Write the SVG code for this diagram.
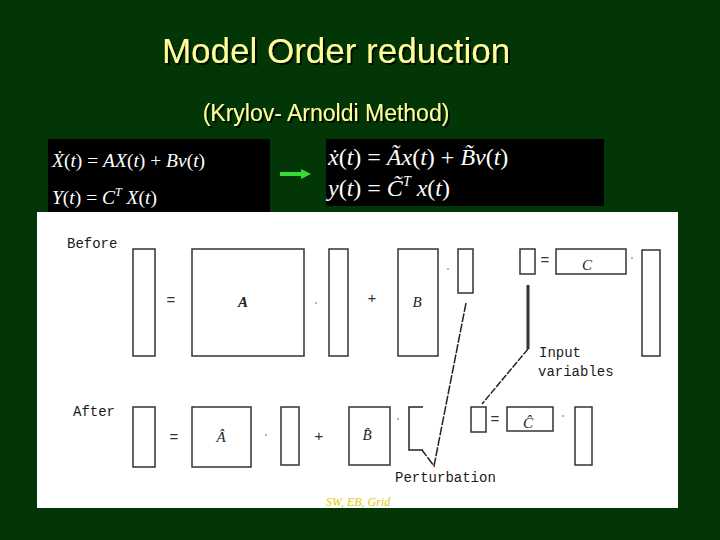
<svg xmlns="http://www.w3.org/2000/svg" width="720" height="540" viewBox="0 0 720 540">
<defs>
<filter id="shd" x="-5%" y="-20%" width="110%" height="140%">
<feDropShadow dx="2" dy="2" stdDeviation="0.6" flood-color="#000000" flood-opacity="0.8"/>
</filter>
</defs>
<style>
.title{font-family:"Liberation Sans",Arial,sans-serif;fill:#ffff99;text-anchor:middle}
.eq{font-family:"Liberation Serif","Times New Roman",serif;fill:#ffffff}
.it{font-style:italic}
.box{fill:#ffffff;stroke:#333333;stroke-width:1.5}
.lbl{font-family:"Liberation Mono","Courier New",monospace;font-size:14px;fill:#1a1a1a}
.op{font-family:"Liberation Sans",Arial,sans-serif;font-size:15px;fill:#333333;text-anchor:middle}
.sym{font-family:"Liberation Serif","Times New Roman",serif;font-style:italic;font-size:15px;fill:#222222;text-anchor:middle}
.dot{fill:#555555}
.ptr{fill:none;stroke:#222222;stroke-width:1.5}
</style>
<rect x="0" y="0" width="720" height="540" fill="#033606"/>
<g id="title">
<text class="title" x="336" y="63" font-size="35" filter="url(#shd)">Model Order reduction</text>
<text class="title" x="326" y="121" font-size="23" filter="url(#shd)">(Krylov- Arnoldi Method)</text>
</g>
<g id="original-system">
<rect x="48" y="139" width="222" height="75" fill="#000000"/>
<text class="eq" x="52" y="167" font-size="19.5"><tspan class="it">Ẋ</tspan>(<tspan class="it">t</tspan>) = <tspan class="it">AX</tspan>(<tspan class="it">t</tspan>) + <tspan class="it">Bv</tspan>(<tspan class="it">t</tspan>)</text>
<text class="eq" x="52" y="204" font-size="19.5"><tspan class="it">Y</tspan>(<tspan class="it">t</tspan>) = <tspan class="it">C</tspan><tspan class="it" font-size="12" dy="-8">T</tspan><tspan class="it" dy="8"> X</tspan>(<tspan class="it">t</tspan>)</text>
</g>
<g id="reduced-system">
<rect x="326" y="139" width="278" height="67" fill="#000000"/>
<text class="eq" x="328" y="165" font-size="24"><tspan class="it">ẋ</tspan>(<tspan class="it">t</tspan>) = <tspan class="it">Ãx</tspan>(<tspan class="it">t</tspan>) + <tspan class="it">B̃v</tspan>(<tspan class="it">t</tspan>)</text>
<text class="eq" x="328" y="196" font-size="24"><tspan class="it">y</tspan>(<tspan class="it">t</tspan>) = <tspan class="it">C̃</tspan><tspan class="it" font-size="14" dy="-10">T</tspan><tspan class="it" dy="10"> x</tspan>(<tspan class="it">t</tspan>)</text>
</g>
<g id="connectors">
<path d="M280 174 H302" stroke="#33dd33" stroke-width="4" fill="none"/>
<path d="M301 169 L311 174 L301 179 Z" fill="#33dd33"/>
</g>
<g id="panel">
<rect x="37" y="212" width="641" height="296" fill="#ffffff"/>
<text class="lbl" x="67" y="248">Before</text>
<text class="lbl" x="73" y="416">After</text>
<!-- before row -->
<rect class="box" x="133" y="249" width="22" height="107"/>
<text class="op" x="171" y="305">=</text>
<rect class="box" x="192" y="249" width="112" height="107"/>
<text class="sym" x="243" y="307" font-weight="bold">A</text>
<circle class="dot" cx="316" cy="303" r="0.8"/>
<rect class="box" x="329" y="249" width="19" height="107"/>
<text class="op" x="372" y="303">+</text>
<rect class="box" x="398" y="249" width="40" height="107"/>
<text class="sym" x="417" y="307">B</text>
<circle class="dot" cx="448" cy="269" r="0.8"/>
<rect class="box" x="458" y="249" width="15" height="44"/>
<rect class="box" x="520" y="249" width="15" height="25" stroke-width="2"/>
<text class="op" x="545" y="265">=</text>
<rect class="box" x="556" y="249" width="70" height="25"/>
<text class="sym" x="587" y="270">C</text>
<circle class="dot" cx="632" cy="258" r="0.8"/>
<rect class="box" x="642" y="250" width="18" height="106" stroke="#777777"/>
<!-- after row -->
<rect class="box" x="133" y="407" width="22" height="60"/>
<text class="op" x="174" y="442">=</text>
<rect class="box" x="192" y="407" width="59" height="60"/>
<text class="sym" x="221" y="442">Â</text>
<circle class="dot" cx="266" cy="435" r="0.8"/>
<rect class="box" x="281" y="407" width="18" height="58"/>
<text class="op" x="319" y="441">+</text>
<rect class="box" x="349" y="407" width="41" height="58"/>
<text class="sym" x="367" y="440">B̂</text>
<circle class="dot" cx="398" cy="419" r="0.8"/>
<path class="ptr" d="M423 407 H409 V450 H423"/>
<rect class="box" x="471" y="407" width="15" height="25"/>
<text class="op" x="495" y="424">=</text>
<rect class="box" x="507" y="407" width="46" height="24"/>
<text class="sym" x="528" y="428" fill="#666666">Ĉ</text>
<circle class="dot" cx="563" cy="416" r="0.8"/>
<rect class="box" x="575" y="407" width="17" height="58"/>
<text class="lbl" x="539" y="357">Input</text>
<text class="lbl" x="538" y="376">variables</text>
<text class="lbl" x="395" y="482">Perturbation</text>
<text x="326" y="506" font-family="'Liberation Serif',serif" font-style="italic" font-size="12" fill="#ddcc00">SW, EB, Grid</text>
</g>
<g id="pointers">
<path d="M528 285 V349" stroke="#333333" stroke-width="3" fill="none"/>
<path class="ptr" d="M528 349 L482 404" stroke-dasharray="7 1.5"/>
<path class="ptr" d="M466 303 L434 466 L422 450" stroke-dasharray="9 1.5"/>
</g>
</svg>
